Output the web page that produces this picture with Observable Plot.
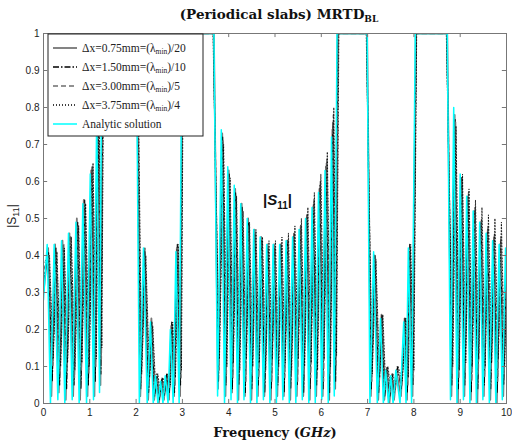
<!DOCTYPE html>
<html>
<head>
<meta charset="utf-8">
<script src="https://cdn.jsdelivr.net/npm/d3@7"></script>
<script src="https://cdn.jsdelivr.net/npm/@observablehq/plot@0.6"></script>
<style>
  html, body { margin: 0; padding: 0; background: #fff; }
  #chart { width: 512px; height: 445px; }
</style>
</head>
<body>
<div id="chart"></div>
<script>
// ---------- Data ----------
const xTicks = [0, 1, 2, 3, 4, 5, 6, 7, 8, 9, 10];
const yTicks = [0, 0.1, 0.2, 0.3, 0.4, 0.5, 0.6, 0.7, 0.8, 0.9, 1];

// Analytic solution
const freqAnalytic = [0.00,0.08,0.15,0.23,0.31,0.39,0.46,0.54,0.62,0.70,0.77,0.85,0.93,1.01,1.08,1.15,1.21,1.26,1.30,
1.99,2.01,2.07,2.16,2.24,2.31,2.37,2.42,2.47,2.53,2.58,2.63,2.69,2.74,2.80,2.86,2.93,2.99,
3.68,3.76,3.84,3.91,3.98,4.05,4.12,4.19,4.26,4.33,4.40,4.47,4.54,4.61,4.68,4.75,4.82,4.89,4.96,5.03,5.10,5.17,5.24,5.31,5.38,5.45,5.52,5.59,5.66,5.73,5.80,5.87,5.94,6.01,6.08,6.15,6.22,6.28,6.34,
6.99,7.05,7.13,7.21,7.28,7.34,7.39,7.45,7.50,7.55,7.61,7.70,7.78,7.83,7.88,7.95,8.03,
8.72,8.79,8.86,8.93,9.00,9.07,9.14,9.21,9.28,9.35,9.42,9.49,9.56,9.63,9.70,9.77,9.84,9.91,9.98,10.0];
const s11Analytic = [0.28,0.43,0.00,0.43,0.01,0.44,0.00,0.46,0.01,0.49,0.00,0.54,0.00,0.62,0.01,0.78,0.03,0.97,1.00,
1.00,0.92,0.00,0.42,0.00,0.22,0.00,0.075,0.00,0.06,0.00,0.075,0.00,0.20,0.00,0.41,0.00,1.00,
1.00,0.02,0.74,0.00,0.64,0.01,0.59,0.00,0.54,0.01,0.50,0.00,0.47,0.00,0.45,0.01,0.43,0.00,0.43,0.00,0.43,0.01,0.44,0.00,0.45,0.00,0.47,0.01,0.50,0.00,0.53,0.00,0.57,0.01,0.63,0.00,0.72,0.02,1.00,
1.00,0.00,0.41,0.00,0.23,0.00,0.09,0.00,0.075,0.00,0.09,0.00,0.22,0.00,0.42,0.00,1.00,
1.00,0.01,0.80,0.00,0.62,0.01,0.56,0.00,0.52,0.00,0.49,0.01,0.46,0.00,0.44,0.00,0.43,0.01,0.42,0.30];

// dx = 0.75 mm
const freqDx075 = [0.00,0.10,0.17,0.25,0.33,0.41,0.48,0.56,0.64,0.72,0.79,0.87,0.95,1.03,1.10,1.17,1.23,1.28,1.31,
1.99,2.02,2.09,2.18,2.26,2.33,2.39,2.44,2.49,2.55,2.60,2.65,2.71,2.76,2.82,2.88,2.95,3.00,
3.68,3.77,3.86,3.93,4.00,4.07,4.14,4.21,4.28,4.35,4.42,4.49,4.56,4.63,4.70,4.77,4.84,4.91,4.98,5.05,5.12,5.19,5.26,5.33,5.40,5.47,5.54,5.61,5.68,5.75,5.82,5.89,5.96,6.03,6.10,6.17,6.24,6.30,6.35,
6.99,7.07,7.15,7.23,7.30,7.36,7.41,7.47,7.52,7.57,7.63,7.72,7.80,7.85,7.90,7.97,8.04,
8.72,8.81,8.88,8.95,9.02,9.09,9.16,9.23,9.30,9.37,9.44,9.51,9.58,9.65,9.72,9.79,9.86,9.93,10.0];
const s11Dx075 = [0.30,0.42,0.02,0.43,0.03,0.44,0.01,0.46,0.02,0.50,0.01,0.55,0.02,0.63,0.02,0.80,0.05,0.98,1.00,
1.00,0.90,0.02,0.41,0.01,0.23,0.01,0.07,0.00,0.06,0.01,0.07,0.01,0.21,0.02,0.42,0.02,1.00,
1.00,0.04,0.73,0.02,0.63,0.03,0.58,0.01,0.54,0.02,0.50,0.01,0.47,0.02,0.45,0.02,0.43,0.01,0.43,0.02,0.43,0.02,0.44,0.01,0.45,0.02,0.47,0.02,0.50,0.01,0.53,0.02,0.58,0.02,0.64,0.01,0.74,0.04,1.00,
1.00,0.02,0.40,0.01,0.24,0.01,0.08,0.00,0.07,0.01,0.08,0.02,0.23,0.01,0.41,0.02,1.00,
1.00,0.02,0.78,0.00,0.61,0.02,0.56,0.01,0.52,0.00,0.49,0.02,0.46,0.01,0.44,0.00,0.43,0.02,0.40];

// dx = 1.50 mm
const freqDx150 = [0.00,0.11,0.19,0.27,0.35,0.43,0.50,0.58,0.66,0.74,0.81,0.89,0.97,1.05,1.12,1.18,1.24,1.29,1.31,
1.98,2.03,2.10,2.19,2.27,2.34,2.40,2.45,2.50,2.56,2.61,2.66,2.72,2.77,2.83,2.89,2.96,3.00,
3.67,3.78,3.87,3.94,4.01,4.08,4.15,4.22,4.29,4.36,4.43,4.50,4.57,4.64,4.71,4.78,4.85,4.92,4.99,5.06,5.13,5.20,5.27,5.34,5.41,5.48,5.55,5.62,5.69,5.76,5.83,5.90,5.97,6.04,6.11,6.18,6.25,6.31,6.36,
6.98,7.08,7.16,7.24,7.31,7.37,7.42,7.48,7.53,7.58,7.64,7.73,7.81,7.86,7.91,7.98,8.05,
8.71,8.82,8.89,8.96,9.03,9.10,9.17,9.24,9.31,9.38,9.45,9.52,9.59,9.66,9.73,9.80,9.87,9.94,10.0];
const s11Dx150 = [0.33,0.41,0.06,0.42,0.05,0.43,0.04,0.45,0.05,0.49,0.04,0.55,0.05,0.64,0.06,0.82,0.08,0.98,1.00,
1.00,0.88,0.04,0.42,0.03,0.22,0.02,0.08,0.01,0.07,0.02,0.08,0.03,0.22,0.03,0.43,0.05,1.00,
1.00,0.06,0.72,0.05,0.62,0.04,0.57,0.05,0.53,0.03,0.49,0.04,0.46,0.05,0.44,0.03,0.42,0.04,0.42,0.05,0.43,0.03,0.44,0.04,0.46,0.05,0.48,0.03,0.51,0.04,0.54,0.05,0.59,0.04,0.65,0.03,0.76,0.06,1.00,
1.00,0.04,0.40,0.03,0.24,0.02,0.10,0.02,0.08,0.03,0.10,0.04,0.23,0.03,0.43,0.05,1.00,
1.00,0.05,0.77,0.04,0.61,0.05,0.56,0.03,0.52,0.04,0.49,0.05,0.47,0.04,0.45,0.03,0.44,0.05,0.38];

// dx = 3.00 mm
const freqDx300 = [0.00,0.12,0.20,0.28,0.36,0.44,0.51,0.59,0.67,0.75,0.82,0.90,0.98,1.06,1.13,1.19,1.25,1.29,1.32,
1.98,2.04,2.11,2.20,2.28,2.35,2.41,2.46,2.51,2.57,2.62,2.67,2.73,2.78,2.84,2.90,2.97,3.01,
3.67,3.79,3.88,3.95,4.02,4.09,4.16,4.23,4.30,4.37,4.44,4.51,4.58,4.65,4.72,4.79,4.86,4.93,5.00,5.07,5.14,5.21,5.28,5.35,5.42,5.49,5.56,5.63,5.70,5.77,5.84,5.91,5.98,6.05,6.12,6.19,6.26,6.32,6.37,
6.98,7.09,7.17,7.25,7.32,7.38,7.43,7.49,7.54,7.59,7.65,7.74,7.82,7.87,7.92,7.99,8.05,
8.71,8.83,8.90,8.97,9.04,9.11,9.18,9.25,9.32,9.39,9.46,9.53,9.60,9.67,9.74,9.81,9.88,9.95,10.0];
const s11Dx300 = [0.36,0.40,0.10,0.41,0.08,0.43,0.09,0.45,0.07,0.48,0.09,0.54,0.08,0.64,0.10,0.83,0.12,0.97,1.00,
1.00,0.85,0.06,0.40,0.05,0.21,0.04,0.07,0.02,0.06,0.03,0.07,0.04,0.21,0.05,0.42,0.07,1.00,
1.00,0.09,0.71,0.08,0.61,0.07,0.56,0.09,0.52,0.06,0.48,0.08,0.46,0.07,0.44,0.09,0.42,0.06,0.42,0.08,0.43,0.07,0.44,0.09,0.46,0.06,0.48,0.08,0.51,0.07,0.55,0.09,0.60,0.06,0.66,0.08,0.78,0.10,1.00,
1.00,0.06,0.39,0.05,0.23,0.04,0.09,0.03,0.07,0.04,0.09,0.05,0.22,0.05,0.42,0.07,1.00,
1.00,0.08,0.76,0.07,0.61,0.09,0.57,0.06,0.53,0.08,0.50,0.07,0.48,0.09,0.46,0.06,0.45,0.08,0.35];

// dx = 3.75 mm
const freqDx375 = [0.00,0.13,0.21,0.29,0.37,0.45,0.52,0.60,0.68,0.76,0.83,0.91,0.99,1.07,1.14,1.20,1.26,1.30,1.33,
1.97,2.05,2.12,2.21,2.29,2.36,2.42,2.47,2.52,2.58,2.63,2.68,2.74,2.79,2.85,2.91,2.98,3.02,
3.66,3.80,3.89,3.96,4.03,4.10,4.17,4.24,4.31,4.38,4.45,4.52,4.59,4.66,4.73,4.80,4.87,4.94,5.01,5.08,5.15,5.22,5.29,5.36,5.43,5.50,5.57,5.64,5.71,5.78,5.85,5.92,5.99,6.06,6.13,6.20,6.27,6.33,6.38,
6.97,7.10,7.18,7.26,7.33,7.39,7.44,7.50,7.55,7.60,7.66,7.75,7.83,7.88,7.93,8.00,8.06,
8.70,8.84,8.91,8.98,9.05,9.12,9.19,9.26,9.33,9.40,9.47,9.54,9.61,9.68,9.75,9.82,9.89,9.96,10.0];
const s11Dx375 = [0.38,0.40,0.12,0.41,0.10,0.42,0.11,0.45,0.09,0.48,0.11,0.54,0.10,0.65,0.12,0.84,0.15,0.97,1.00,
1.00,0.83,0.08,0.40,0.07,0.21,0.05,0.08,0.03,0.07,0.04,0.08,0.05,0.22,0.07,0.43,0.09,1.00,
1.00,0.12,0.70,0.10,0.61,0.11,0.56,0.09,0.52,0.12,0.49,0.10,0.47,0.11,0.45,0.09,0.44,0.12,0.44,0.10,0.45,0.11,0.46,0.09,0.48,0.12,0.50,0.10,0.53,0.11,0.57,0.09,0.62,0.12,0.68,0.10,0.80,0.13,1.00,
1.00,0.08,0.39,0.07,0.24,0.05,0.10,0.04,0.08,0.05,0.10,0.06,0.23,0.07,0.43,0.09,1.00,
1.00,0.10,0.75,0.09,0.62,0.11,0.58,0.10,0.55,0.12,0.53,0.10,0.51,0.11,0.50,0.12,0.49,0.10,0.30];

// ---------- Series styles ----------
const seriesDefs = [
  {key: "dx075", label: ["Δx=0.75mm=(λ", "min", ")/20"], f: freqDx075, s: s11Dx075, stroke: "#767676", width: 1.8, dash: null},
  {key: "dx150", label: ["Δx=1.50mm=(λ", "min", ")/10"], f: freqDx150, s: s11Dx150, stroke: "#000000", width: 1.1, dash: "6,2,1.5,2"},
  {key: "dx300", label: ["Δx=3.00mm=(λ", "min", ")/5"],  f: freqDx300, s: s11Dx300, stroke: "#6e6e6e", width: 1.4, dash: "5,3"},
  {key: "dx375", label: ["Δx=3.75mm=(λ", "min", ")/4"],  f: freqDx375, s: s11Dx375, stroke: "#000000", width: 0.8, dash: "1,2"},
  {key: "analytic", label: ["Analytic solution"], f: freqAnalytic, s: s11Analytic, stroke: "#00ffff", width: 1.5, dash: null}
];

const rows = seriesDefs.flatMap(se => se.f.map((f, i) => ({series: se.key, f, s: se.s[i]})));

const tickLenX = 0.09;   // GHz (inward y-ticks length)
const tickLenY = 0.011;  // |S11| (inward x-ticks length)

const lineMarks = seriesDefs.map(se =>
  Plot.line(rows.filter(r => r.series === se.key), {
    x: "f", y: "s", stroke: se.stroke, strokeWidth: se.width,
    strokeDasharray: se.dash || undefined, clip: true
  })
);

const plot = Plot.plot({
  width: 512,
  height: 445,
  marginLeft: 43,
  marginRight: 6,
  marginTop: 33,
  marginBottom: 42,
  style: {fontFamily: "'Liberation Sans', Arial, sans-serif", fontSize: "10px", color: "#222", background: "#fff"},
  x: {domain: [0, 10]},
  y: {domain: [0, 1]},
  marks: [
    Plot.axisX({ticks: xTicks, tickSize: 0, tickPadding: 5, label: null, tickFormat: d => String(d)}),
    Plot.axisY({ticks: yTicks, tickSize: 0, tickPadding: 4, label: null, tickFormat: d => String(d)}),
    ...lineMarks,
    Plot.frame({stroke: "#777", strokeWidth: 1}),
    Plot.ruleX(xTicks, {x: d => d, y1: 0, y2: tickLenY, stroke: "#777"}),
    Plot.ruleX(xTicks, {x: d => d, y1: 1, y2: 1 - tickLenY, stroke: "#777"}),
    Plot.ruleY(yTicks, {y: d => d, x1: 0, x2: tickLenX, stroke: "#777"}),
    Plot.ruleY(yTicks, {y: d => d, x1: 10, x2: 10 - tickLenX, stroke: "#777"})
  ]
});

document.getElementById("chart").appendChild(plot);

// ---------- Titles, labels, legend ----------
const svg = d3.select(plot);
const xs = plot.scale("x"), ys = plot.scale("y");
const serifWide = "'DejaVu Serif', serif";
const serif = "'Liberation Serif', 'Times New Roman', serif";
const sans = "'Liberation Sans', Arial, sans-serif";

// Title
const title = svg.append("text")
  .attr("x", 279).attr("y", 19)
  .attr("text-anchor", "middle")
  .attr("font-family", serifWide).attr("font-weight", "bold").attr("font-size", 13.5)
  .attr("fill", "#111");
title.append("tspan").text("(Periodical slabs) MRTD");
title.append("tspan").attr("font-size", 9).attr("dy", 3).text("BL");

// X label
const xl = svg.append("text")
  .attr("x", 275).attr("y", 437)
  .attr("text-anchor", "middle")
  .attr("font-family", serifWide).attr("font-weight", "bold").attr("font-size", 13)
  .attr("fill", "#111");
xl.append("tspan").text("Frequency (");
xl.append("tspan").attr("font-style", "italic").text("GHz");
xl.append("tspan").text(")");

// Y label
const yl = svg.append("text")
  .attr("transform", "translate(16,216) rotate(-90)")
  .attr("text-anchor", "middle")
  .attr("font-family", sans).attr("font-size", 12)
  .attr("fill", "#222");
yl.append("tspan").text("|S");
yl.append("tspan").attr("font-size", 9).attr("dy", 3).text("11");
yl.append("tspan").attr("dy", -3).text("|");

// |S11| annotation inside the plot
const ann = svg.append("text")
  .attr("x", xs.apply(4.75)).attr("y", ys.apply(0.535))
  .attr("text-anchor", "start")
  .attr("font-family", sans).attr("font-weight", "bold").attr("font-size", 15)
  .attr("fill", "#111");
ann.append("tspan").text("|");
ann.append("tspan").attr("font-style", "italic").text("S");
ann.append("tspan").attr("font-size", 10).attr("dy", 4).text("11");
ann.append("tspan").attr("dy", -4).text("|");

// Legend
const lg = svg.append("g").attr("transform", "translate(48,34)");
lg.append("rect").attr("x", 0).attr("y", 0).attr("width", 155).attr("height", 102)
  .attr("fill", "#fff").attr("stroke", "#222").attr("stroke-width", 1);
seriesDefs.forEach((se, i) => {
  const yy = 14 + i * 19;
  lg.append("line").attr("x1", 5).attr("x2", 29).attr("y1", yy).attr("y2", yy)
    .attr("stroke", se.stroke).attr("stroke-width", Math.max(se.width, 1.3))
    .attr("stroke-dasharray", se.dash || null);
  const t = lg.append("text").attr("x", 34).attr("y", yy + 3.5)
    .attr("text-anchor", "start")
    .attr("font-family", serif).attr("font-size", 11.5).attr("fill", "#222");
  t.append("tspan").text(se.label[0]);
  if (se.label.length > 1) {
    t.append("tspan").attr("font-size", 7.5).attr("dy", 2.5).text(se.label[1]);
    t.append("tspan").attr("dy", -2.5).text(se.label[2]);
  }
});
</script>
</body>
</html>
